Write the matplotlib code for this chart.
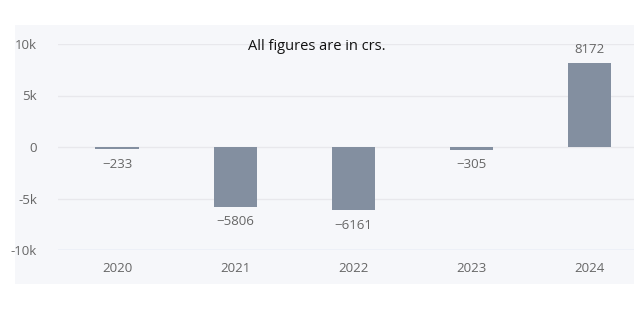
import matplotlib
matplotlib.use("Agg")
import matplotlib.pyplot as plt

years = ["2020", "2021", "2022", "2023", "2024"]
values = [-233, -5806, -6161, -305, 8172]
yticks = [-10000, -5000, 0, 5000, 10000]
yticklabels = ["-10k", "-5k", "0", "5k", "10k"]
title = "All figures are in crs."

plt.rcParams['font.family'] = ['Open Sans', 'DejaVu Sans']

W, H = 642, 316
fig = plt.figure(figsize=(W / 100, H / 100), dpi=100)
fig.patch.set_facecolor("white")
# light background panel
bg = fig.add_axes([15 / W, 1 - 284 / H, (634 - 15) / W, (284 - 25) / H], zorder=0)
bg.set_facecolor("#f6f7fa")
bg.set_xticks([])
bg.set_yticks([])
for sp in bg.spines.values():
    sp.set_visible(False)

ax = fig.add_axes([58 / W, 1 - 250 / H, (634 - 58) / W, (250 - 44) / H], zorder=1)
ax.set_facecolor("none")
x = list(range(len(years)))
ax.bar(x, values, width=0.365, color="#838fa0", zorder=3)
ax.set_xlim(-0.5, 4.38)
ax.set_ylim(-10000, 10000)
ax.set_yticks(yticks)
ax.set_yticklabels(yticklabels)
ax.set_xticks(x)
ax.set_xticklabels(years)
for sp in ax.spines.values():
    sp.set_visible(False)
ax.tick_params(axis="both", length=0, colors="#666666", labelsize=9.5)
ax.tick_params(axis="y", pad=15)
ax.tick_params(axis="x", pad=9)
for t in yticks:
    ax.axhline(t, color="#ccd6eb" if t == -10000 else "#e8e8ec", lw=1, zorder=1)

for xi, v in zip(x, values):
    if v >= 0:
        ax.annotate(str(v), (xi, v), xytext=(0, 5), textcoords="offset points",
                    ha="center", va="bottom", fontsize=9.5, color="#666666")
    else:
        ax.annotate("\u2212" + str(-v), (xi, v), xytext=(0, -6), textcoords="offset points",
                    ha="center", va="top", fontsize=9.5, color="#666666")

fig.text(317 / W, 1 - 47 / H, title, ha="center", va="center", fontsize=10.5, color="#111111")

fig.savefig("out.png", dpi=100)
